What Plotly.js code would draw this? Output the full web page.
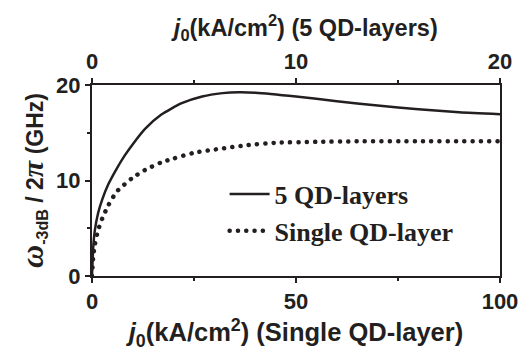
<!DOCTYPE html>
<html>
<head>
<meta charset="utf-8">
<script src="https://cdn.plot.ly/plotly-3.0.1.min.js"></script>
<style>
  html, body { margin: 0; padding: 0; background: #fff; }
  #chart { width: 522px; height: 356px; }
  .dotted-trace path.js-line { stroke-linecap: round; }
</style>
</head>
<body>
<div id="chart"></div>
<script>
// 5 QD-layers (x in single-layer units, kA/cm^2)
const fiveX = [0, 0.3, 0.7, 1.5, 2.5, 4, 6, 8, 10, 13, 17, 22, 27, 32, 36, 40, 50, 60, 70, 80, 90, 100];
const fiveY = [0, 3.0, 4.8, 6.6, 8.0, 9.6, 11.2, 12.6, 13.8, 15.4, 16.9, 18.1, 18.8, 19.15, 19.25, 19.2, 18.8, 18.3, 17.85, 17.45, 17.15, 16.95];
// Single QD-layer
const singleX = [0, 0.3, 0.7, 1.5, 2.5, 4, 6, 8, 10, 13, 17, 20, 25, 31, 38, 45, 55, 65, 80, 100];
const singleY = [0, 2.0, 3.3, 4.8, 6.0, 7.4, 8.8, 9.6, 10.3, 11.1, 11.9, 12.3, 12.9, 13.3, 13.7, 13.95, 14.05, 14.1, 14.1, 14.1];
const bottomTicks = [0, 50, 100];
const topTicks = [0, 10, 20];
const yTicks = [0, 10, 20];

const ink = '#231f20';
const sans = 'Liberation Sans, Arial, sans-serif';
const tickFont = { family: sans, size: 22, color: ink, weight: 'bold' };

const traces = [
  { x: fiveX, y: fiveY, mode: 'lines', name: '5 QD-layers', line: { color: ink, width: 2.5, shape: 'spline', smoothing: 0.6 } },
  { x: singleX, y: singleY, mode: 'lines', name: 'Single QD-layer', line: { color: ink, width: 4.5, dash: '0.1px,8.2px', shape: 'spline', smoothing: 0.6 } },
  { x: [0, 20], y: [null, null], xaxis: 'x2', mode: 'lines', showlegend: false, hoverinfo: 'skip' }
];

const layout = {
  width: 522, height: 356,
  margin: { l: 92, r: 22, t: 85, b: 80 },
  paper_bgcolor: '#fff', plot_bgcolor: '#fff',
  showlegend: true,
  legend: {
    x: 0.325, y: 0.552, xanchor: 'left', yanchor: 'top',
    bgcolor: 'rgba(0,0,0,0)',
    font: { family: 'Liberation Serif, Times New Roman, serif', size: 26, color: ink, weight: 'bold' },
    tracegroupgap: 0, itemwidth: 40
  },
  xaxis: {
    range: [0, 100], tickvals: bottomTicks, ticktext: bottomTicks.map(String),
    showgrid: false, zeroline: false, showline: true, linecolor: ink, linewidth: 2,
    ticks: 'outside', ticklen: 5, tickwidth: 2, tickcolor: ink,
    minor: { tickvals: [25, 75], ticks: 'outside', ticklen: 3, tickwidth: 2, tickcolor: ink },
    tickfont: tickFont,
    title: { text: '<i>j</i><sub>0</sub>(kA/cm<sup>2</sup>) (Single QD-layer)', font: { family: sans, size: 25.5, color: ink, weight: 'bold' }, standoff: 10 }
  },
  xaxis2: {
    overlaying: 'x', side: 'top', anchor: 'y',
    range: [0, 20], tickvals: topTicks, ticktext: topTicks.map(String),
    showgrid: false, zeroline: false, showline: true, linecolor: ink, linewidth: 2,
    ticks: 'outside', ticklen: 5, tickwidth: 2, tickcolor: ink,
    minor: { tickvals: [5, 15], ticks: 'outside', ticklen: 3, tickwidth: 2, tickcolor: ink },
    tickfont: tickFont,
    title: { text: '&nbsp;&nbsp;&nbsp;<i>j</i><sub>0</sub>(kA/cm<sup>2</sup>) (5 QD-layers)', font: { family: sans, size: 23.5, color: ink, weight: 'bold' }, standoff: 6 }
  },
  yaxis: {
    range: [0, 20], tickvals: yTicks, ticktext: yTicks.map(String),
    showgrid: false, zeroline: false, showline: true, mirror: true, linecolor: ink, linewidth: 2,
    ticks: 'outside', ticklen: 5, tickwidth: 2, tickcolor: ink,
    minor: { tickvals: [5, 15], ticks: 'outside', ticklen: 3, tickwidth: 2, tickcolor: ink },
    tickfont: tickFont,
    title: { text: '<span style="font-family:Liberation Serif,serif;font-size:32px"><i>ω</i></span><sub>-3dB</sub> / 2<span style="font-family:Liberation Serif,serif;font-size:30px"><i>π</i></span> (GHz)', font: { family: sans, size: 23, color: ink, weight: 'bold' }, standoff: 6 }
  }
};

Plotly.newPlot('chart', traces, layout, { displayModeBar: false, staticPlot: true }).then(function (gd) {
  const lines = gd.querySelectorAll('.scatterlayer .trace');
  if (lines[1]) lines[1].classList.add('dotted-trace');
  gd.querySelectorAll('.legend .traces').forEach(function (t, i) {
    if (i === 1) t.classList.add('dotted-trace');
  });
});
</script>
</body>
</html>
